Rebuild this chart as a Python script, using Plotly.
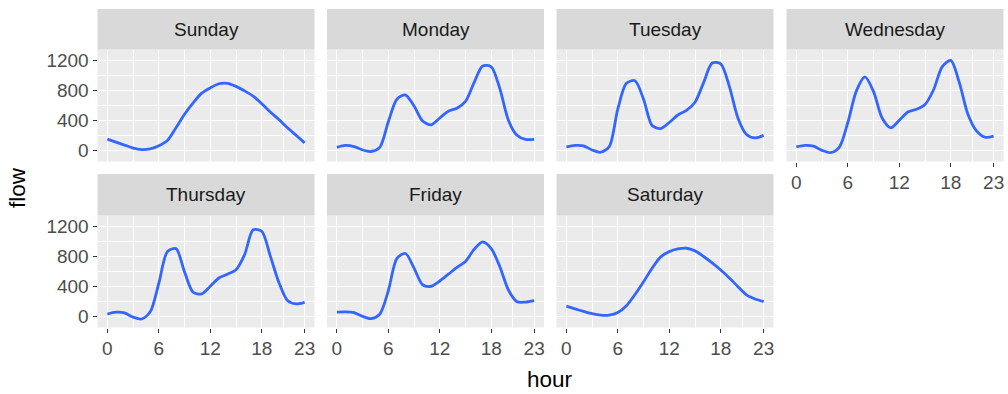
import plotly.graph_objects as go

hours = list(range(24))
days = ["Sunday", "Monday", "Tuesday", "Wednesday", "Thursday", "Friday", "Saturday"]

sunday = [150, 110, 70, 30, 10, 20, 60, 130, 300, 480, 630, 760, 830, 885, 890, 850, 790, 720, 620, 510, 409, 300, 200, 100]
monday = [40, 65, 50, 5, -15, 40, 380, 680, 735, 590, 390, 340, 430, 520, 560, 650, 900, 1120, 1110, 820, 400, 200, 145, 145]
tuesday = [45, 65, 60, 5, -25, 50, 550, 890, 925, 680, 330, 290, 370, 470, 530, 640, 900, 1160, 1150, 850, 430, 210, 165, 200]
wednesday = [45, 65, 55, 0, -30, 40, 370, 790, 975, 780, 430, 300, 400, 510, 545, 610, 805, 1110, 1195, 900, 480, 260, 175, 190]
thursday = [30, 55, 45, -10, -35, 60, 440, 860, 900, 590, 320, 300, 400, 510, 560, 620, 820, 1150, 1130, 800, 450, 210, 165, 185]
friday = [55, 60, 50, 0, -30, 30, 340, 770, 835, 640, 420, 400, 470, 560, 650, 730, 890, 990, 900, 660, 350, 195, 190, 210]
saturday = [135, 100, 65, 35, 15, 15, 50, 140, 290, 460, 640, 790, 860, 895, 905, 870, 795, 710, 615, 510, 395, 285, 230, 195]

series = [sunday, monday, tuesday, wednesday, thursday, friday, saturday]

x_ticks = [0, 6, 12, 18, 23]
x_minor = [3, 9, 15, 20.5]
y_ticks = [0, 400, 800, 1200]
y_minor = [200, 600, 1000]
x_range = [-1.15, 24.15]
y_range = [-148, 1340]

W, H = 1008, 394
col_left = [97.5, 327.0, 556.5, 786.5]
panel_w = 217.0
rows = [dict(strip_top=9.0, top=49.5, bottom=161.5), dict(strip_top=174.0, top=215.5, bottom=327.5)]

def px_x(v):
    return v / W

def px_y(v):
    return 1 - v / H

LINE = "#3366FF"
FONT = "Liberation Sans, Arial, sans-serif"
TICK_FONT = dict(family=FONT, size=19, color="#4D4D4D")

fig = go.Figure()
layout = dict(
    width=W, height=H,
    margin=dict(l=0, r=0, t=0, b=0),
    paper_bgcolor="white",
    plot_bgcolor="#EBEBEB",
    showlegend=False,
    shapes=[], annotations=[],
)

for i, (day, vals) in enumerate(zip(days, series)):
    r, c = divmod(i, 4)
    row = rows[r]
    idx = i + 1
    xa = "xaxis" if idx == 1 else f"xaxis{idx}"
    ya = "yaxis" if idx == 1 else f"yaxis{idx}"
    xref = "x" if idx == 1 else f"x{idx}"
    yref = "y" if idx == 1 else f"y{idx}"
    x0 = col_left[c]
    x1 = x0 + panel_w
    show_x = (r == 1) or (c == 3)
    show_y = (c == 0)

    fig.add_trace(go.Scatter(
        x=hours, y=vals, mode="lines",
        line=dict(color=LINE, width=2.8, shape="spline", smoothing=0.8),
        xaxis=xref, yaxis=yref, hoverinfo="skip",
    ))

    layout[xa] = dict(
        domain=[px_x(x0), px_x(x1)], anchor=yref, range=x_range,
        tickvals=x_ticks, ticktext=[str(t) for t in x_ticks],
        showticklabels=show_x, ticks="outside" if show_x else "",
        ticklen=4, tickwidth=1.1, tickcolor="#333333",
        tickfont=TICK_FONT, showgrid=True, gridcolor="white", gridwidth=1.2,
        zeroline=False, showline=False, fixedrange=True,
        minor=dict(tickvals=x_minor, showgrid=True, gridcolor="white", gridwidth=0.6),
    )
    layout[ya] = dict(
        domain=[px_y(row["bottom"]), px_y(row["top"])], anchor=xref, range=y_range,
        tickvals=y_ticks, ticktext=[str(t) for t in y_ticks],
        showticklabels=show_y, ticks="outside" if show_y else "",
        ticklen=4, tickwidth=1.1, tickcolor="#333333",
        tickfont=TICK_FONT, showgrid=True, gridcolor="white", gridwidth=1.2,
        zeroline=False, showline=False, fixedrange=True,
        minor=dict(tickvals=y_minor, showgrid=True, gridcolor="white", gridwidth=0.6),
    )

    layout["shapes"].append(dict(
        type="rect", xref="paper", yref="paper",
        x0=px_x(x0), x1=px_x(x1), y0=px_y(row["top"]), y1=px_y(row["strip_top"]),
        fillcolor="#D9D9D9", line=dict(width=0), layer="below",
    ))
    layout["annotations"].append(dict(
        text=day, xref="paper", yref="paper",
        x=px_x((x0 + x1) / 2), y=px_y((row["strip_top"] + row["top"]) / 2),
        xanchor="center", yanchor="middle", showarrow=False,
        font=dict(family=FONT, size=19, color="#1A1A1A"),
    ))

layout["annotations"].append(dict(
    text="hour", xref="paper", yref="paper", x=px_x(550), y=px_y(379),
    xanchor="center", yanchor="middle", showarrow=False,
    font=dict(family=FONT, size=22.5, color="black"),
))
layout["annotations"].append(dict(
    text="flow", xref="paper", yref="paper", x=px_x(17), y=px_y(188),
    xanchor="center", yanchor="middle", showarrow=False, textangle=-90,
    font=dict(family=FONT, size=22.5, color="black"),
))

fig.update_layout(**layout)
fig.write_html(
    "out.html",
    config={"displayModeBar": False},
    post_script="document.body.style.margin='0';document.body.style.padding='0';document.body.style.overflow='hidden';",
)
